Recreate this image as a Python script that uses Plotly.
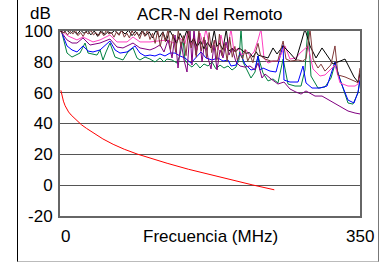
import plotly.graph_objects as go

# ---------------- data (MHz, dB) ----------------
red_f = [1, 2, 4, 6, 8, 10, 13, 16, 20, 25, 31, 40, 50, 62, 75, 90, 110, 125, 150, 175, 200, 225, 250]
red_db = [61.5, 58.5, 54.5, 51.5, 49.2, 47.5, 45.5, 43.8, 41.5, 39.2, 36.8, 33.5, 30, 26.5, 23.3, 20.2, 16.6, 14.2, 10.3, 6.8, 3.5, 0.1, -3]

green_f = [0, 2.3, 8.2, 14, 23.3, 29.2, 32.7, 38.5, 43.2, 46.7, 50.2, 53.7, 58.3, 64.2, 70, 73.5, 79.3, 85.2,
           89.8, 93.3, 99.2, 105, 110.8, 116.7, 121.3, 124.8, 130.7, 136.5, 140, 143.5, 145.8, 149.3, 154, 158.7,
           163.3, 168, 172.7, 177.3, 182, 186.7, 191.3, 196, 200.7, 205.3, 208.8, 211.2, 213.5, 218.2, 222.8,
           227.5, 231, 236.8, 242.7, 248.5, 254.3, 260.3, 266, 274.2, 281.2, 285.8, 289.3, 292.8, 301, 309.2,
           316.2, 320.8, 326.7, 336, 341.8, 347.7, 350]
green_db = [100, 98.7, 85.7, 83.1, 85.7, 92.2, 85.7, 85.1, 84.4, 87.7, 81.2, 86.4, 92.2, 83.1, 81.8, 81.2, 86.4, 89,
            82.5, 81.2, 83.1, 81.8, 79.9, 82.5, 79.9, 81.8, 81.2, 79.2, 84.4, 94.8, 81.2, 78.6, 76.6, 79.2,
            76, 78.6, 77.3, 79.9, 75.4, 77.9, 76, 77.3, 74.7, 76.6, 81.2, 101.3, 79.9, 74.7, 69.5,
            73.4, 83.8, 72.8, 67.6, 68.9, 66.3, 81.8, 65.6, 64.3, 64.3, 74.7, 103, 70.8, 63, 63.7,
            69.5, 78.6, 68.2, 53.3, 52.6, 59.8, 68.9]

blue_f = [0, 2.3, 8.2, 14, 19.8, 26.8, 32.7, 38.5, 46.7, 52.5, 58.3, 64.2, 70, 78.2, 87.5, 93.3, 99.2, 105,
          110.8, 116.7, 122.5, 128.3, 134.2, 140, 145.8, 152.8, 158.7, 164.5, 170.3, 177.3, 184.3, 190.2, 196,
          199.5, 205.3, 210, 215.8, 222.8, 227.5, 231, 233.3, 236.8, 245, 252, 260.3, 261.3, 268.3, 277.7,
          283.5, 287, 294, 303.3, 311.5, 320.8, 326.7, 336, 343, 347.7, 350]
blue_db = [100, 98.7, 90.3, 87.7, 86.4, 90.3, 87, 86.4, 87.7, 90.9, 93.5, 87.7, 85.7, 86.4, 90.3, 85.7, 83.8, 84.4,
           83.8, 85.1, 83.8, 85.7, 85.7, 83.8, 82.5, 79.2, 82.5, 86.4, 82.5, 81.2, 82.5, 80.5, 81.2,
           77.3, 77.9, 85.7, 78.6, 74.7, 75.4, 83.8, 74.7, 76, 74, 73.4, 90.9, 68.2, 66.9, 66.9,
           77.3, 66.3, 63, 63, 64.3, 79.9, 68.2, 55.2, 53.3, 60.4, 68.2]

pink_f = [0, 3.5, 9.3, 19.8, 26.8, 38.5, 46.7, 58.3, 66.5, 78.2, 85.2, 93.3, 105, 116.7, 124.8, 131.8, 140, 145.8,
          149.3, 152.8, 156.3, 159.8, 163.3, 166.8, 170.3, 173.8, 177.3, 180.8, 184.3, 187.8, 191.3, 196, 199.5,
          203, 207.7, 212.3, 217, 221.7, 226.3, 231, 234.5, 238, 242.7, 248.5, 254.3, 262.5, 268.3, 275.3,
          280, 289.3, 295.2, 303.3, 309.2, 320.8, 326.7, 336, 344.2, 347.7, 350]
pink_db = [100, 99.4, 96.8, 94.2, 96.1, 92.9, 94.2, 97.4, 92.9, 92.9, 96.1, 92.9, 92.9, 93.5, 94.2, 92.2, 95.5, 91.6,
           100.6, 90.9, 96.8, 87.7, 98.7, 91.6, 101.3, 91.6, 89, 94.2, 87.7, 97.4, 88.3, 90.3, 101.3,
           86.4, 89, 84.4, 87.7, 83.8, 86.4, 94.2, 101.3, 82.5, 79.2, 80.5, 80.5, 90.3, 81.8, 82.5,
           85.7, 90.3, 75.4, 70.8, 71.5, 77.9, 66.3, 64.3, 64.3, 65.6, 71.5]

purple_f = [0, 2.3, 8.2, 14, 19.8, 26.8, 35, 40.8, 46.7, 58.3, 66.5, 73.5, 85.2, 93.3, 105, 110.8, 116.7, 121.3,
            126, 130.7, 134.2, 137.7, 141.2, 144.7, 148.2, 151.7, 154, 156.3, 158.7, 162.2, 165.7, 169.2, 172.7,
            176.2, 179.7, 183.2, 186.7, 190.2, 193.7, 197.2, 200.7, 205.3, 210, 215.8, 221.7, 227.5, 231, 235.7,
            239.2, 246.2, 254.3, 261.3, 268.3, 275.3, 281.2, 287, 297.5, 305.7, 316.2, 326.7, 336, 344.2, 350]
purple_db = [100, 98.7, 94.2, 92.2, 92.2, 95.5, 90.9, 91.6, 92.2, 94.8, 89.6, 89, 92.2, 89, 87.7, 89, 91, 86.4,
             94.2, 82.5, 97.4, 76, 92.9, 81.2, 73.4, 100.6, 77.9, 102, 84.4, 98.7, 79.9, 94.2, 82.5,
             75.4, 90.9, 74.7, 87.7, 82.5, 92.9, 84.4, 89, 79.9, 77.3, 76.6, 77.3, 74.7, 79.2, 69.5,
             72.1, 68.9, 65.6, 66.9, 62.4, 60.4, 59.1, 61.1, 57.8, 57.8, 54.6, 51.4, 48.1, 46.8, 46.2]

black_f = [0, 4, 8, 12, 16, 20, 24, 28, 32, 36, 40, 44, 48, 52, 56, 60, 64, 68, 72, 76, 80, 84, 88, 92, 96, 100,
           104, 108, 112, 116, 120, 124, 128, 132, 136, 140, 144, 148, 152, 156, 160, 164, 168, 172, 176, 180,
           183, 186, 190, 194, 197, 201, 205, 209, 213, 217, 221, 225, 229, 231, 242.7, 248.5, 253.2, 260.3,
           268.3, 275.3, 281.2, 285.8, 291.7, 298.7, 305.7, 318.5, 332.5, 343, 347.7, 350]
black_db = [100, 99, 100.5, 98.5, 100, 97.8, 100.5, 98.5, 100.3, 97.5, 100, 96.5, 100.5, 97.5, 99.5, 98.5, 100.5,
            97.8, 100.2, 98, 100.5, 97, 99.8, 96.8, 100.5, 97, 99.5, 95.5, 100.5, 96, 99.5, 93.5, 100.5, 96.5,
            92, 98.5, 94, 100.5, 92, 95, 90, 93.5, 88.5, 92.5, 89, 100.5, 90, 92, 88, 101, 87, 88.5, 86.5, 89,
            87, 85.5, 86, 83, 86.5, 84.4, 82.5, 89, 85.1, 90.3, 85.7, 81.2, 92.2, 101.3, 90.3, 82.5, 89, 78.6,
            81.8, 70.2, 66.9, 72.8]

brown_f = [0, 3, 6, 9, 12, 15, 18, 21, 24, 27, 30, 33, 36, 39, 42, 45, 48, 51, 54, 57, 60, 63, 66, 69, 72, 75,
           78, 81, 84, 87, 90, 93, 96, 99, 102, 105, 108, 111, 114, 117, 120, 123, 126, 129, 132, 135, 138, 141,
           144, 147, 150, 153, 156, 159, 162, 165, 168, 171, 174, 177, 180, 183, 186, 189, 192, 195, 198, 201,
           204, 207, 210, 213, 216, 219, 222, 225, 228, 231, 234, 239.2, 246, 254, 260.3, 263.7, 269, 277.7,
           283, 287, 291.7, 295.2, 301, 304.5, 309.2, 316, 320.8, 324.3, 332.5, 341.8, 345.3, 347.7, 350]
brown_db = [100, 98.5, 99.5, 97.5, 99.8, 98, 100.5, 97, 99, 96.5, 99.5, 98, 100.5, 97.5, 99, 96.8, 99.5, 97,
            100.5, 98, 99, 96, 99.5, 97.2, 100.6, 96, 98.5, 95.5, 100.3, 97, 99.2, 95, 99.8, 96.5, 100.5, 94.5,
            98.5, 92, 100.5, 90, 99, 93, 101, 88, 98, 86, 100.5, 90, 97, 84, 101, 89, 95, 83, 100.5, 87, 96,
            82.5, 99, 86, 94, 81, 98, 84, 92, 80.5, 96, 83, 90, 81, 85, 82, 88, 80.5, 84, 79.5, 86, 92, 84,
            81.8, 80.5, 80.5, 93.5, 81.8, 80.5, 81.2, 80.5, 82, 101, 81.8, 76, 78.5, 74, 78, 90.3, 71.5, 70.2,
            68.2, 67.5, 66.5, 76]

x_tick_text = ["0", "350"]
y_ticks = [-20, 0, 20, 40, 60, 80, 100]
y_tick_text = ["-20", "0", "20", "40", "60", "80", "100"]
title_text = "ACR-N del Remoto"
x_title = "Frecuencia (MHz)"
y_unit = "dB"

# ---------------- figure ----------------
FONT = "Liberation Sans, Arial, sans-serif"
fig = go.Figure()

series = [
    (red_f, red_db, "#ff0000"),
    (green_f, green_db, "#008040"),
    (blue_f, blue_db, "#0000ff"),
    (pink_f, pink_db, "#ff40c0"),
    (purple_f, purple_db, "#800080"),
    (black_f, black_db, "#000000"),
    (brown_f, brown_db, "#803838"),
]
for f, v, c in series:
    fig.add_trace(go.Scatter(x=f, y=v, mode="lines", line=dict(color=c, width=1), hoverinfo="skip"))

fig.update_layout(
    width=391, height=264,
    margin=dict(l=60, r=31, t=31, b=48),
    paper_bgcolor="white", plot_bgcolor="white",
    showlegend=False,
    font=dict(family=FONT, size=17, color="black"),
)
fig.update_xaxes(range=[0, 350], showgrid=False, showticklabels=False, zeroline=False,
                 showline=True, linecolor="#666", linewidth=2, mirror=True, ticks="")
fig.update_yaxes(range=[-20, 100], tickvals=y_ticks, ticktext=y_tick_text, showgrid=True,
                 gridcolor="#555", gridwidth=1,
                 zeroline=False, showline=True, linecolor="#666", linewidth=2, mirror=True,
                 ticks="outside", ticklen=2, tickcolor="rgba(0,0,0,0)",
                 tickfont=dict(family=FONT, size=17, color="black"))

# texts
fig.add_annotation(text=title_text, xref="paper", yref="paper", x=0.5, y=1.0, yshift=5,
                   xanchor="center", yanchor="bottom", showarrow=False, font=dict(size=17))
fig.add_annotation(text=y_unit, xref="paper", yref="paper", x=0, xshift=-7, y=1.0, yshift=6,
                   xanchor="right", yanchor="bottom", showarrow=False, font=dict(size=17))
fig.add_annotation(text=x_tick_text[0], xref="x", yref="paper", x=0, xshift=5, y=0, yshift=-9,
                   xanchor="center", yanchor="top", showarrow=False, font=dict(size=17))
fig.add_annotation(text=x_tick_text[1], xref="x", yref="paper", x=350, y=0, yshift=-9,
                   xanchor="center", yanchor="top", showarrow=False, font=dict(size=17))
fig.add_annotation(text=x_title, xref="paper", yref="paper", x=0.5, y=0, yshift=-9,
                   xanchor="center", yanchor="top", showarrow=False, font=dict(size=17))

# outer frame around the whole chart panel (page decoration)
frame_js = (
    "document.body.style.margin='0';document.body.style.overflow='hidden';"
    "var d=document.createElement('div');"
    "d.style.cssText='position:absolute;left:17px;top:-2px;width:362px;height:264px;"
    "border-left:1px solid #000;border-right:1px solid #777;border-bottom:1px solid #bbb;"
    "box-sizing:border-box;pointer-events:none;z-index:10;';"
    "document.body.appendChild(d);"
)
fig.write_html("out.html", config={"displayModeBar": False}, post_script=frame_js)
